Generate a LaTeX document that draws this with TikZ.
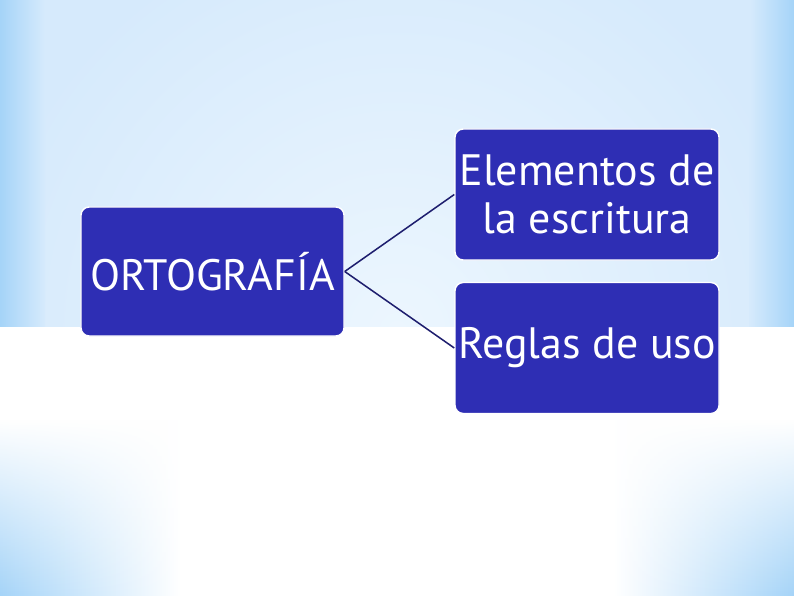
\documentclass[tikz,border=0pt]{standalone}
\usepackage{fontspec}
\setmainfont{PT Sans}
\usepackage{tikz}
\usetikzlibrary{positioning}
\usetikzlibrary{fadings}

\definecolor{boxblue}{RGB}{46,46,180}
\definecolor{linenavy}{RGB}{30,30,110}
\definecolor{skywhite}{RGB}{236,246,254}
\definecolor{skylight}{RGB}{214,234,252}
\definecolor{skyedge}{RGB}{165,212,248}

\begin{document}
\begin{tikzpicture}
			[
			x=0.03cm, y=-0.03cm,
			font=\fontsize{37.5}{41}\selectfont,
			connector/.style={draw=linenavy,line width=1.3pt}
			]
			
			% Box style
			\tikzstyle{topic box}=[rectangle,rounded corners=7pt,draw=white,line width=1.2pt,fill=boxblue,text=white,align=center,inner sep=1pt];
			\tikzstyle{root box}=[topic box,minimum width=7.89cm,minimum height=3.87cm];
			\tikzstyle{leaf box}=[topic box,minimum width=7.92cm,minimum height=3.93cm];
			
			% Background: sky above, white floor below
			\useasboundingbox (0,0) rectangle (794,595);
			\fill[skylight] (0,0) rectangle (794,327);
			\begin{scope}
				\clip (0,0) rectangle (794,327);
				\shade[inner color=skywhite,outer color=skylight] (397,330) circle (420);
			\end{scope}
			\shade[left color=skyedge,right color=skylight] (0,0) rectangle (45,327);
			\shade[left color=skylight,right color=skyedge] (749,0) rectangle (794,327);
			\fill[white] (0,327) rectangle (794,595);
			\shade[left color=skyedge,right color=white,path fading=north] (0,420) rectangle (180,595);
			\shade[left color=white,right color=skyedge,path fading=north] (614,420) rectangle (794,595);
			
			% The boxes
			\node(ortografia)[root box] at (212.5,271.5){ORTOGRAF\'IA};
			\node(elementos)[leaf box] at (587,194.5){Elementos de\\la escritura};
			\node(reglas)[leaf box] at (587,348){Reglas de uso};
			
			% Connectors
			\draw[connector](ortografia.east)--(elementos.west);
			\draw[connector](ortografia.east)--(reglas.west);
			\end{tikzpicture}
\end{document}
